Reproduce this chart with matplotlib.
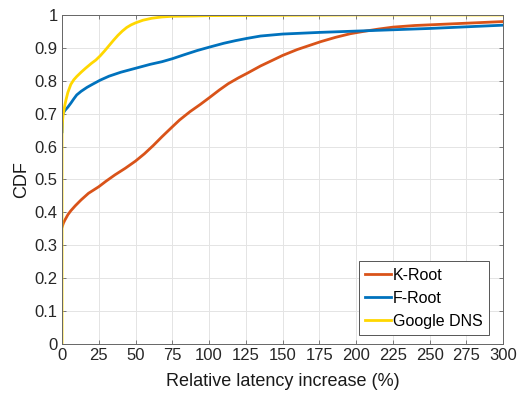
import numpy as np
import matplotlib.pyplot as plt

plt.rcParams['font.family'] = ['Liberation Sans', 'DejaVu Sans']

# CDF samples per resolver: relative latency increase (%) vs cumulative fraction
k_root_x = [0, 1, 2, 4, 6, 9, 13, 18, 25, 30, 36, 43, 50, 56, 62, 68, 75, 80, 87, 94, 100, 107, 113, 120, 126, 135,
            143, 150, 160, 168, 176, 186, 196, 205, 215, 225, 240, 255, 270, 285, 300]
k_root_y = [0.355, 0.368, 0.377, 0.393, 0.405, 0.42, 0.438, 0.458, 0.478, 0.495, 0.514, 0.534, 0.556, 0.578, 0.603, 0.63,
            0.66, 0.681, 0.706, 0.728, 0.748, 0.772, 0.791, 0.809, 0.823, 0.845, 0.862, 0.877, 0.895, 0.907, 0.919,
            0.932, 0.943, 0.95, 0.957, 0.963, 0.968, 0.971, 0.974, 0.977, 0.98]

f_root_x = [0, 0.3, 1, 2, 4, 6, 8, 10, 13, 17, 21, 26, 32, 40, 50, 60, 68, 75, 83, 92, 100, 110, 118, 126, 135, 150,
            175, 200, 225, 250, 275, 300]
f_root_y = [0.645, 0.695, 0.703, 0.71, 0.72, 0.732, 0.745, 0.757, 0.768, 0.78, 0.79, 0.802, 0.814, 0.826, 0.838, 0.85,
            0.858, 0.867, 0.879, 0.892, 0.902, 0.914, 0.922, 0.929, 0.936, 0.942, 0.947, 0.951, 0.955, 0.959,
            0.964, 0.969]

google_x = [0, 0, 0.3, 0.7, 1.3, 2, 2.7, 4, 6, 8, 10, 13, 16, 20, 23, 26, 29, 32, 35, 38, 41, 44, 47, 50, 55, 61, 68,
            75, 90, 100, 150, 200, 300]
google_y = [0.0, 0.64, 0.675, 0.695, 0.711, 0.728, 0.742, 0.765, 0.789, 0.803, 0.813, 0.826, 0.838, 0.853, 0.863,
            0.876, 0.891, 0.907, 0.923, 0.938, 0.951, 0.962, 0.97, 0.976, 0.984, 0.99, 0.994, 0.996, 0.997, 0.998,
            0.999, 1.0, 1.0]

x_ticks = np.arange(0, 301, 25)
y_ticks = np.round(np.arange(0, 1.01, 0.1), 1)

fig = plt.figure(figsize=(5.19, 3.94), dpi=100)
ax = fig.add_axes([0.1195, 0.127, 0.85, 0.835])

ax.plot(k_root_x, k_root_y, color="#D95319", linewidth=2, label="K-Root")
ax.plot(f_root_x, f_root_y, color="#0072BD", linewidth=2, label="F-Root")
ax.plot(google_x, google_y, color="#FFD700", linewidth=2, label="Google DNS")

ax.set_xlim(0, 300)
ax.set_ylim(0, 1)
ax.set_xticks(x_ticks)
ax.set_yticks(y_ticks)
ax.set_yticklabels([("%g" % v) for v in y_ticks])
ax.tick_params(direction="in", top=True, right=True, labelsize=12,
               labelcolor="#262626", color="#666666", length=3, width=0.6, pad=3)
for sp in ax.spines.values():
    sp.set_color("#666666")
    sp.set_linewidth(0.7)

ax.grid(True, color="#e4e4e4", linewidth=0.7)
ax.set_axisbelow(True)

ax.set_xlabel("Relative latency increase (%)", fontsize=13, labelpad=7, color="#1a1a1a")
ax.set_ylabel("CDF", fontsize=13, labelpad=3, color="#1a1a1a")

leg = ax.legend(loc="lower right", bbox_to_anchor=(0.968, 0.027), fontsize=11.5,
                fancybox=False, framealpha=1, edgecolor="#555555", handlelength=1.6,
                handletextpad=0.15, borderaxespad=0, labelspacing=0.5, borderpad=0.4)
leg.get_frame().set_linewidth(0.7)

plt.savefig("out.png", dpi=100)
plt.close()
